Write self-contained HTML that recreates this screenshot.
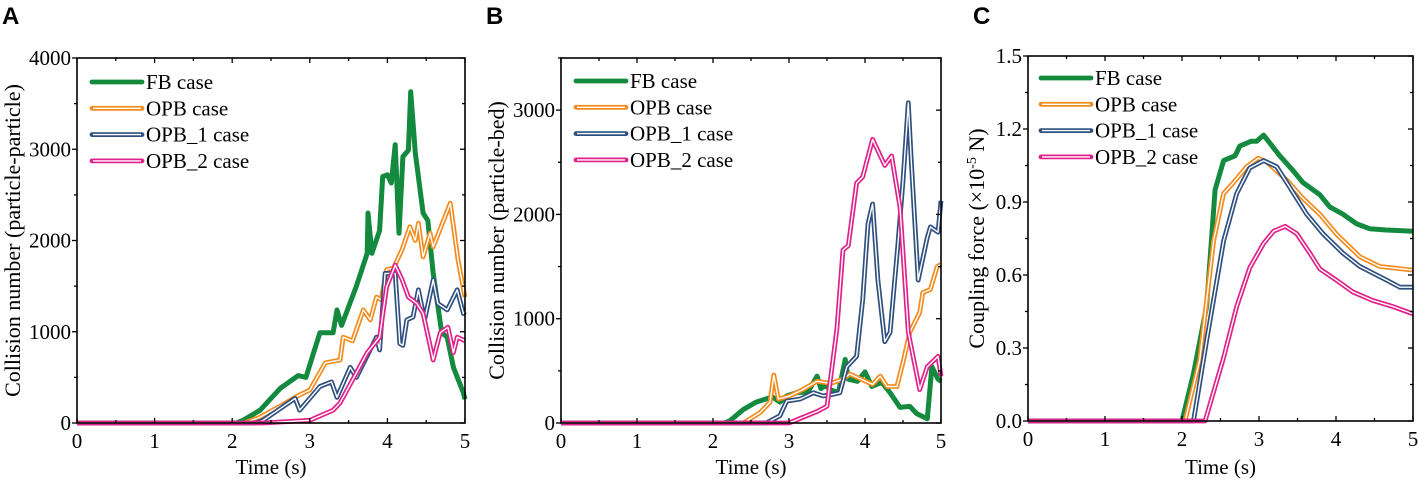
<!DOCTYPE html>
<html><head><meta charset="utf-8">
<style>
body{margin:0;background:#fff;}
svg{display:block;font-family:"Liberation Serif",serif;}
</style></head>
<body>
<svg id="chart" width="1418" height="480" viewBox="0 0 1418 480" xmlns="http://www.w3.org/2000/svg"></svg>
<script>
// ---- Data ----
const seriesNames = ["FB case","OPB case","OPB_1 case","OPB_2 case"];
const xTickLabels = ["0","1","2","3","4","5"];
const aYTickLabels = ["0","1000","2000","3000","4000"];
const bYTickLabels = ["0","1000","2000","3000"];
const cYTickLabels = ["0.0","0.3","0.6","0.9","1.2","1.5"];

// Panel A (particle-particle)
const aFB_t = [0,2.05,2.14,2.36,2.62,2.85,2.95,3.13,3.3,3.35,3.41,3.6,3.74,3.75,3.8,3.9,3.94,4.0,4.05,4.1,4.15,4.2,4.27,4.3,4.36,4.46,4.52,4.59,4.7,4.77,4.85,4.98,5];
const aFB_v = [0,0,30,140,380,520,500,990,990,1240,1070,1500,1860,2300,1860,2110,2700,2720,2630,3050,2080,2920,2990,3630,2960,2300,2220,1640,990,940,610,330,260];
const aOPB_t = [0,2.15,2.35,2.65,2.85,3.0,3.2,3.39,3.43,3.55,3.69,3.78,3.86,3.92,3.99,4.08,4.19,4.29,4.36,4.4,4.46,4.55,4.59,4.81,4.91,5];
const aOPB_v = [0,0,60,200,300,360,660,690,940,900,1240,1130,1380,1350,1680,1700,1900,2150,2000,2190,1820,2080,1930,2410,1790,1380];
const aOPB1_t = [0,2.3,2.4,2.81,2.87,3.13,3.28,3.35,3.52,3.6,3.86,3.9,3.97,4.1,4.16,4.2,4.25,4.33,4.4,4.48,4.59,4.65,4.77,4.9,4.98,5];
const aOPB1_v = [0,0,30,270,140,400,450,280,610,500,940,800,1640,1640,870,850,1130,1160,1460,1130,1570,1310,1240,1460,1200,1220];
const aOPB2_t = [0,2.4,3.0,3.3,3.39,3.6,3.74,3.9,3.99,4.1,4.19,4.27,4.38,4.46,4.59,4.68,4.78,4.85,4.9,4.98,5];
const aOPB2_v = [0,0,30,140,220,550,770,940,1490,1730,1570,1380,1310,1200,690,990,1050,770,940,910,900];

// Panel B (particle-bed)
const bFB_t = [0,2.15,2.22,2.4,2.57,2.78,2.88,2.97,3.1,3.25,3.37,3.42,3.48,3.54,3.65,3.74,3.78,3.9,4.0,4.09,4.22,4.33,4.46,4.59,4.68,4.82,4.88,4.96,5];
const bFB_v = [0,0,20,130,200,250,200,260,290,300,450,330,360,320,290,610,420,400,490,350,390,290,150,160,90,40,540,420,400];
const bOPB_t = [0,2.4,2.62,2.75,2.8,2.86,3.01,3.18,3.37,3.55,3.71,3.8,3.95,4.1,4.2,4.29,4.42,4.5,4.59,4.72,4.76,4.86,4.95,5];
const bOPB_v = [0,0,100,200,460,230,260,320,400,380,420,470,420,370,450,350,350,580,870,1060,1250,1280,1500,1520];
const bOPB1_t = [0,2.7,2.88,2.97,3.15,3.32,3.45,3.55,3.67,3.76,3.89,3.97,4.04,4.1,4.17,4.26,4.33,4.43,4.5,4.57,4.61,4.7,4.82,4.86,4.96,5];
const bOPB1_v = [0,0,70,210,230,290,260,270,290,540,640,1180,1910,2100,1370,780,870,1690,2320,3070,2490,1370,1780,1880,1830,2130];
const bOPB2_t = [0,3.0,3.37,3.5,3.63,3.71,3.78,3.89,3.97,4.1,4.26,4.35,4.46,4.57,4.72,4.82,4.92,4.96,5];
const bOPB2_v = [0,0,110,160,900,1660,1700,2300,2360,2720,2470,2560,2070,870,320,540,610,640,450];

// Panel C (coupling force)
const cFB_t = [0,2.0,2.15,2.32,2.43,2.54,2.69,2.75,2.9,2.97,3.06,3.27,3.44,3.57,3.79,3.92,4.09,4.27,4.44,4.65,5];
const cFB_v = [0,0,0.195,0.47,0.95,1.07,1.09,1.13,1.15,1.15,1.175,1.09,1.03,0.98,0.93,0.88,0.85,0.81,0.79,0.785,0.78];
const cOPB_t = [0,2.04,2.23,2.41,2.54,2.67,2.84,2.99,3.1,3.36,3.57,3.79,4.0,4.31,4.57,5];
const cOPB_v = [0,0,0.25,0.74,0.935,0.98,1.045,1.08,1.065,0.99,0.915,0.85,0.77,0.675,0.635,0.62];
const cOPB1_t = [0,2.15,2.32,2.54,2.71,2.88,3.06,3.23,3.4,3.62,3.83,4.09,4.31,4.65,4.83,5];
const cOPB1_v = [0,0,0.33,0.74,0.935,1.04,1.07,1.045,0.96,0.85,0.77,0.69,0.635,0.58,0.55,0.55];
const cOPB2_t = [0,2.3,2.54,2.71,2.88,3.06,3.19,3.34,3.49,3.66,3.79,4.0,4.22,4.48,4.74,5];
const cOPB2_v = [0,0,0.26,0.47,0.63,0.73,0.78,0.8,0.77,0.69,0.625,0.58,0.53,0.495,0.47,0.44];

const colors = ["#138a3e","#f28c1e","#2f507f","#e0218a"];
const NS = "http://www.w3.org/2000/svg";
const svg = document.getElementById("chart");

function el(tag, attrs, parent, text){
  const e = document.createElementNS(NS, tag);
  for (const k in attrs) e.setAttribute(k, attrs[k]);
  if (text !== undefined) e.textContent = text;
  (parent || svg).appendChild(e);
  return e;
}

function panel(p){
  const g = el("g", {});
  
  
  const sx = t => p.x0 + (p.x1 - p.x0) * t / 5;
  const sy = v => p.y0 - (p.y0 - p.y1) * v / p.ymax;

  p.series.forEach((s, i) => {
    const pts = s.t.map((t, j) => sx(t).toFixed(1) + "," + sy(s.v[j]).toFixed(1)).join(" ");
    const sg = el("g", {}, g);
    
    
    el("polyline", {points: pts, fill: "none", stroke: colors[i], "stroke-width": i === 0 ? 5 : 4.8, "stroke-linejoin": "round"}, sg);
    if (i > 0) el("polyline", {points: pts, fill: "none", stroke: "#fff", "stroke-width": 1.4, "stroke-linejoin": "round"}, sg);
  });

  const fr = el("rect", {x: p.x0, y: p.y1, width: p.x1 - p.x0, height: p.y0 - p.y1, fill: "none", stroke: "#000", "stroke-width": 1.6}, g);
  
  

  for (let k = 0; k <= 10; k++) {
    const x = sx(k / 2), len = k % 2 ? 3 : 5;
    el("line", {x1: x, x2: x, y1: p.y0, y2: p.y0 - len, stroke: "#000", "stroke-width": 1.3}, g);
    el("line", {x1: x, x2: x, y1: p.y1, y2: p.y1 + len, stroke: "#000", "stroke-width": 1.3}, g);
  }
  xTickLabels.forEach((lab, k) => {
    const t = el("text", {x: sx(k), y: p.y0 + 25, "text-anchor": "middle", "font-size": 21}, g, lab);
    
    
  });
  const nMaj = Math.round(p.ymax / p.ystep);
  for (let k = 0; k <= nMaj * 2; k++) {
    const v = k * p.ystep / 2; if (v > p.ymax + 1e-9) break;
    const y = sy(v), len = k % 2 ? 3 : 5;
    el("line", {x1: p.x0, x2: p.x0 - len, y1: y, y2: y, stroke: "#000", "stroke-width": 1.3}, g);
    el("line", {x1: p.x1, x2: p.x1 - len, y1: y, y2: y, stroke: "#000", "stroke-width": 1.3}, g);
  }
  p.ylabels.forEach((lab, k) => {
    const t = el("text", {x: p.x0 - 6, y: sy(k * p.ystep) + 7, "text-anchor": "end", "font-size": 21}, g, lab);
    
    
  });

  const xt = el("text", {x: (p.x0 + p.x1) / 2, y: 474, "text-anchor": "middle", "font-size": 21}, g, "Time (s)");
  
  
  const yt = el("text", {x: 0, y: 0, "text-anchor": "middle", "font-size": 22, transform: "translate(" + p.ytx + "," + ((p.y0 + p.y1) / 2) + ") rotate(-90)"}, g);
  
  
  if (p.ysup) {
    el("tspan", {}, yt, "Coupling force (×10");
    el("tspan", {dy: -8, "font-size": 14}, yt, "-5");
    el("tspan", {dy: 8}, yt, " N)");
  } else yt.textContent = p.ytitle;

  const L = el("text", {x: p.lx, y: 24, "font-family": "Liberation Sans, sans-serif", "font-weight": "bold", "font-size": 24}, g, p.letter);
  
  

  const lg = el("g", {}, g);
  
  
  seriesNames.forEach((nm, i) => {
    const y = p.legY + i * 26.3;
    const eg = el("g", {}, lg);
    
    
    el("line", {x1: p.legX, x2: p.legX + 50, y1: y, y2: y, stroke: colors[i], "stroke-width": 4.8, "stroke-linecap": "round"}, eg);
    if (i > 0) el("line", {x1: p.legX + 1, x2: p.legX + 49, y1: y, y2: y, stroke: "#fff", "stroke-width": 1.4}, eg);
    el("text", {x: p.legX + 54, y: y + 7, "font-size": 21}, eg, nm);
  });
}

panel({name: "panel-a", letter: "A", lx: 2, x0: 77, x1: 465, y0: 423, y1: 58, ymax: 4000, ystep: 1000, ylabels: aYTickLabels,
  ytitle: "Collision number (particle-particle)", ytx: 20, legX: 92, legY: 82,
  series: [{t: aFB_t, v: aFB_v}, {t: aOPB_t, v: aOPB_v}, {t: aOPB1_t, v: aOPB1_v}, {t: aOPB2_t, v: aOPB2_v}]});
panel({name: "panel-b", letter: "B", lx: 486, x0: 561, x1: 941, y0: 423, y1: 58, ymax: 3500, ystep: 1000, ylabels: bYTickLabels,
  ytitle: "Collision number (particle-bed)", ytx: 504, legX: 576, legY: 81,
  series: [{t: bFB_t, v: bFB_v}, {t: bOPB_t, v: bOPB_v}, {t: bOPB1_t, v: bOPB1_v}, {t: bOPB2_t, v: bOPB2_v}]});
panel({name: "panel-c", letter: "C", lx: 973, x0: 1028, x1: 1413, y0: 421, y1: 56, ymax: 1.5, ystep: 0.3, ylabels: cYTickLabels,
  ysup: true, ytx: 984, legX: 1041, legY: 78,
  series: [{t: cFB_t, v: cFB_v}, {t: cOPB_t, v: cOPB_v}, {t: cOPB1_t, v: cOPB1_v}, {t: cOPB2_t, v: cOPB2_v}]});
</script>
</body></html>
